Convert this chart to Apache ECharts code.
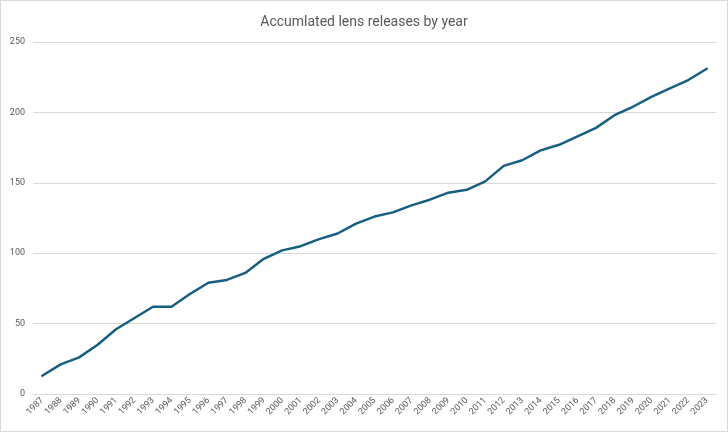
<!DOCTYPE html>
<html>
<head>
    <meta charset="utf-8">
    <title>Accumlated lens releases by year</title>
    <script src="https://cdn.jsdelivr.net/npm/echarts@6/dist/echarts.min.js"></script>
    <style>
        html, body { margin: 0; padding: 0; background: #fff; }
        #wrap { width: 728px; height: 432px; box-sizing: border-box; border: 1px solid #d9d9d9; }
        #chart { width: 726px; height: 430px; }
    </style>
</head>
<body>
    <div id="wrap"><div id="chart"></div></div>
    <script>
    var years = ['1987', '1988', '1989', '1990', '1991', '1992', '1993', '1994', '1995', '1996',
        '1997', '1998', '1999', '2000', '2001', '2002', '2003', '2004', '2005', '2006',
        '2007', '2008', '2009', '2010', '2011', '2012', '2013', '2014', '2015', '2016',
        '2017', '2018', '2019', '2020', '2021', '2022', '2023'];
    var releases = [13, 21, 26, 35, 46, 54, 62, 62, 71, 79,
        81, 86, 96, 102, 105, 110, 114, 121, 126, 129,
        134, 138, 143, 145, 151, 162, 166, 173, 177, 183,
        189, 198, 204, 211, 217, 223, 231];
    var yTicks = [0, 50, 100, 150, 200, 250];

    var chart = echarts.init(document.getElementById('chart'));
    chart.setOption({
        animation: false,
        title: {
            text: 'Accumlated lens releases by year',
            left: 'center',
            top: 9,
            textStyle: {
                fontFamily: 'Roboto',
                fontSize: 14,
                fontWeight: 'normal',
                color: '#595959'
            }
        },
        grid: {
            left: 32,
            right: 11,
            top: 41,
            bottom: 37
        },
        xAxis: {
            type: 'category',
            data: years,
            boundaryGap: true,
            axisLine: { lineStyle: { color: '#d9d9d9' } },
            axisTick: { show: false },
            axisLabel: {
                interval: 0,
                rotate: 45,
                fontSize: 9,
                fontFamily: 'Roboto',
                color: '#595959',
                margin: 5
            }
        },
        yAxis: {
            type: 'value',
            min: yTicks[0],
            max: yTicks[yTicks.length - 1],
            interval: 50,
            axisLine: { show: false },
            axisTick: { show: false },
            splitLine: { lineStyle: { color: '#d9d9d9' } },
            axisLabel: {
                fontSize: 9,
                fontFamily: 'Roboto',
                color: '#595959',
                margin: 8
            }
        },
        series: [{
            type: 'line',
            data: releases,
            symbol: 'none',
            lineStyle: { color: '#156082', width: 2.5, cap: 'round', join: 'round' }
        }]
    });
    </script>
</body>
</html>
